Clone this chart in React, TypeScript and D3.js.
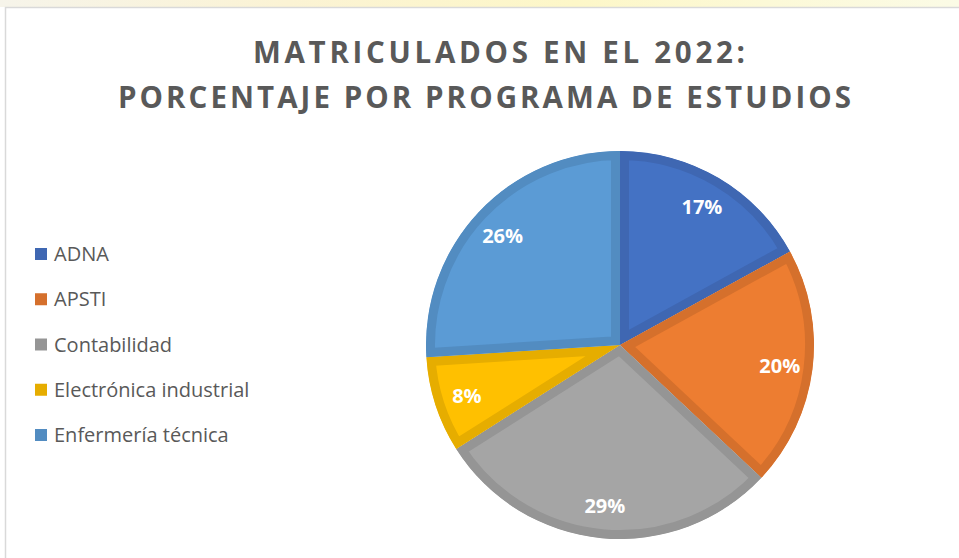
import { useEffect } from 'react';
import * as d3 from 'd3';

const programs = ["ADNA", "APSTI", "Contabilidad", "Electrónica industrial", "Enfermería técnica"];
const shares = [17, 20, 29, 8, 26];
const fills = ["#4472C4", "#ED7D31", "#A5A5A5", "#FFC000", "#5B9BD5"];
const edges = ["#3F67B2", "#D5702C", "#959595", "#E6AD00", "#528CC1"];
const titleLines = ["MATRICULADOS EN EL 2022:", "PORCENTAJE POR PROGRAMA DE ESTUDIOS"];

const W = 959;
const H = 558;
const cx = 620;
const cy = 345;
const R = 194;

export default function App() {
  useEffect(() => {
    document.body.style.margin = '0';
  }, []);

  const pie = d3.pie<number>().value(d => d).sort(null);
  const arcs = pie(shares);
  const arc = d3.arc<d3.PieArcDatum<number>>().innerRadius(0).outerRadius(R);
  const labelArc = d3.arc<d3.PieArcDatum<number>>().innerRadius(161).outerRadius(161);

  const legendY = d3.scalePoint<string>().domain(programs).range([254, 435]);

  return (
    <svg width={W} height={H} style={{ display: 'block', background: '#fff' }}>
      <defs>
        <linearGradient id="topband" x1="0" x2="1" y1="0" y2="0">
          <stop offset="0%" stopColor="#f6f4ea" />
          <stop offset="30%" stopColor="#fbf3d4" />
          <stop offset="60%" stopColor="#fdf7c8" />
          <stop offset="100%" stopColor="#fbfbe6" />
        </linearGradient>
        {arcs.map((a, i) => (
          <clipPath id={`slice-${i}`} key={i}>
            <path d={arc(a) ?? ''} />
          </clipPath>
        ))}
      </defs>

      {/* page strip above the chart */}
      <rect x={0} y={0} width={W} height={7} fill="url(#topband)" />
      <rect x={5.5} y={7.5} width={W + 10} height={H + 10} fill="#fff" stroke="#d9d9d9" strokeWidth={1.5} />

      {/* title */}
      <g fontFamily="'Open Sans', Lato, sans-serif" fontWeight={700} fontSize={29.5} fill="#595959">
        <text x={253} y={63} textLength={492} lengthAdjust="spacing">{titleLines[0]}</text>
        <text x={118} y={108} textLength={733} lengthAdjust="spacing">{titleLines[1]}</text>
      </g>

      {/* slices */}
      <g transform={`translate(${cx},${cy})`}>
        {arcs.map((a, i) => (
          <path
            key={i}
            d={arc(a) ?? ''}
            fill={fills[i]}
            stroke={edges[i]}
            strokeWidth={18}
            strokeLinejoin="miter"
            clipPath={`url(#slice-${i})`}
          />
        ))}
      </g>

      {/* value labels */}
      <g fontFamily="'Open Sans', Lato, sans-serif" fontWeight="bold" fontSize={20} fill="#fff" textAnchor="middle">
        {arcs.map((a, i) => {
          const [x, y] = labelArc.centroid(a);
          return (
            <text key={i} x={cx + x} y={cy + y + 8}>{`${shares[i]}%`}</text>
          );
        })}
      </g>

      {/* legend */}
      <g fontFamily="'Open Sans', Lato, sans-serif" fontSize={20} fill="#595959">
        {programs.map((p, i) => (
          <g key={p} transform={`translate(0,${legendY(p)})`}>
            <rect x={35} y={-6} width={12} height={12} fill={edges[i]} />
            <text x={54} y={7}>{p}</text>
          </g>
        ))}
      </g>
    </svg>
  );
}
